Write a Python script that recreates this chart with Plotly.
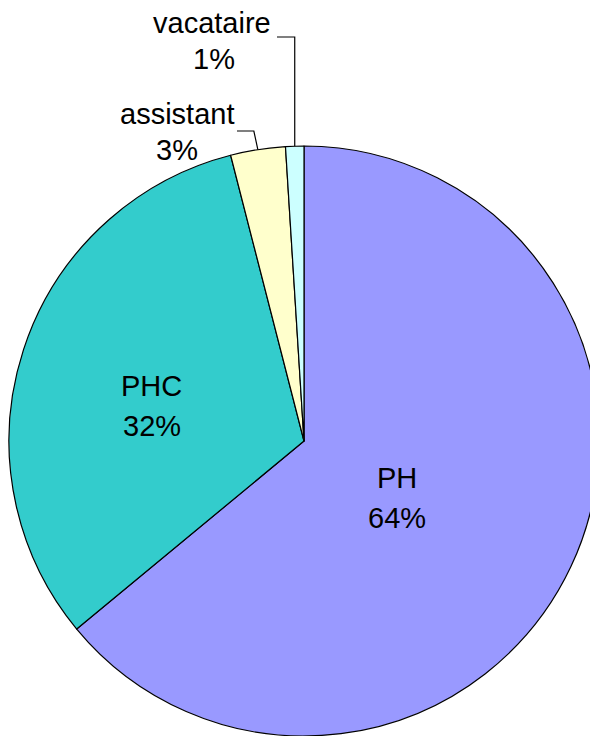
import math
import plotly.graph_objects as go

# ---- data ----
categories = ["PH", "PHC", "assistant", "vacataire"]
values = [64, 32, 3, 1]
colors = ["#9999FF", "#33CCCC", "#FFFFCC", "#CCFFFF"]

W, H = 598, 736
OFF = 8  # page body margin offset of the rendered figure
CX, CY, R = 304, 441, 295

def px(x):
    return (x - OFF) / W

def py(y):
    return 1 - (y - OFF) / H

fig = go.Figure(go.Pie(
    labels=categories,
    values=values,
    sort=False,
    direction="clockwise",
    rotation=0,
    marker=dict(colors=colors, line=dict(color="black", width=1.2)),
    textinfo="none",
    hoverinfo="label+percent",
    showlegend=False,
    domain=dict(x=[px(CX - R), px(CX + R)], y=[py(CY + R), py(CY - R)]),
))

total = sum(values)
pct = [round(v / total * 100) for v in values]

# label line centres (pixel layout positions)
label_pos = {
    "PH": ((397, 478), (397, 518)),
    "PHC": ((151, 386), (152, 426)),
    "assistant": ((177, 114), (177, 150)),
    "vacataire": ((212, 23), (214, 59)),
}
font = dict(family="Liberation Sans, Arial, sans-serif", size=29, color="black")
anns = []
for cat, p in zip(categories, pct):
    (x1, y1), (x2, y2) = label_pos[cat]
    for txt, (x, y) in ((cat, (x1, y1)), (f"{p}%", (x2, y2))):
        anns.append(dict(x=px(x), y=py(y), xref="paper", yref="paper", text=txt,
                         showarrow=False, font=font, xanchor="center", yanchor="middle"))

# leader lines for the small outside slices, from each slice's mid angle
cum = 0
mids = {}
for cat, v in zip(categories, values):
    mids[cat] = (cum + v / 2) / total * 2 * math.pi
    cum += v

shapes = []
leader_end = {"assistant": (237, 131), "vacataire": (277, 37)}
for cat in ("assistant", "vacataire"):
    a = mids[cat]
    ex, ey = CX + R * math.sin(a), CY - R * math.cos(a)
    lx, ly = leader_end[cat]
    kx = ex - 4 if cat == "assistant" else ex
    path = f"M {px(ex)} {py(ey)} L {px(kx)} {py(ly)} L {px(lx)} {py(ly)}"
    shapes.append(dict(type="path", path=path, xref="paper", yref="paper",
                       line=dict(color="black", width=1.2)))

fig.update_layout(
    width=W, height=H,
    margin=dict(l=0, r=0, t=0, b=0),
    paper_bgcolor="white", plot_bgcolor="white",
    annotations=anns, shapes=shapes,
)
fig.write_html("out.html")
